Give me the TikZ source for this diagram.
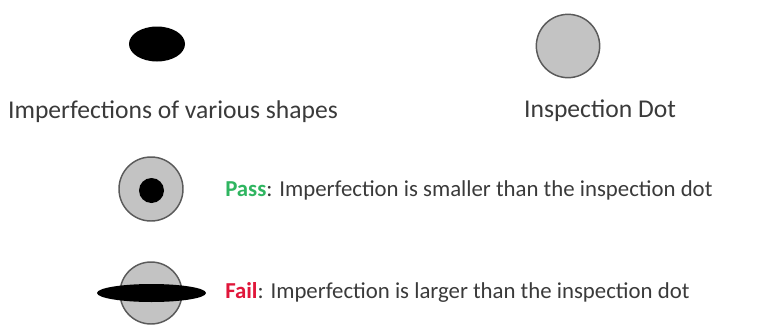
\documentclass[tikz,border=0pt]{standalone}
\usepackage{fontspec}
\setmainfont{Carlito}
\usepackage{xcolor}
\definecolor{InkGray}{HTML}{3A3A3A}
\definecolor{DotFill}{HTML}{C3C3C3}
\definecolor{DotLine}{HTML}{5A5A5A}
\definecolor{PassGreen}{HTML}{2FB560}
\definecolor{FailRed}{HTML}{E0163A}

\begin{document}
\begin{tikzpicture}[x=0.75pt,y=-0.75pt,
  inspdot/.style={circle,draw=DotLine,fill=DotFill,line width=1.1pt,inner sep=0pt},
  caption/.style={text=InkGray,inner sep=0pt,anchor=base,font=\fontsize{19.2}{22}\selectfont},
  verdict/.style={text=InkGray,inner sep=0pt,anchor=base west,font=\fontsize{17.1}{20}\selectfont}]
  \useasboundingbox (0,0) rectangle (778,325);
  % top row: legend
  \fill[black] (157,44) ellipse [x radius=28,y radius=17.5];
  \node[inspdot,minimum size=47.5pt] (dot) at (568,46) {};
  \node[caption] (shapes) at (173,118) {Imperfections of various shapes};
  \node[caption] (dotlbl) at (600,117) {Inspection Dot};
  % pass case
  \node[inspdot,minimum size=48pt] (passdot) at (151,189) {};
  \fill[black] (151.5,190.5) circle [radius=12.5];
  \node[verdict] (pass) at (225,196) {\textcolor{PassGreen}{\textbf{Pass}}: Imperfection is smaller than the inspection dot};
  % fail case
  \node[inspdot,minimum size=46.5pt] (faildot) at (151,293) {};
  \fill[black] (151.5,293) ellipse [x radius=54.5,y radius=9];
  \node[verdict] (fail) at (225,298) {\textcolor{FailRed}{\textbf{Fail}}: Imperfection is larger than the inspection dot};
\end{tikzpicture}
\end{document}
